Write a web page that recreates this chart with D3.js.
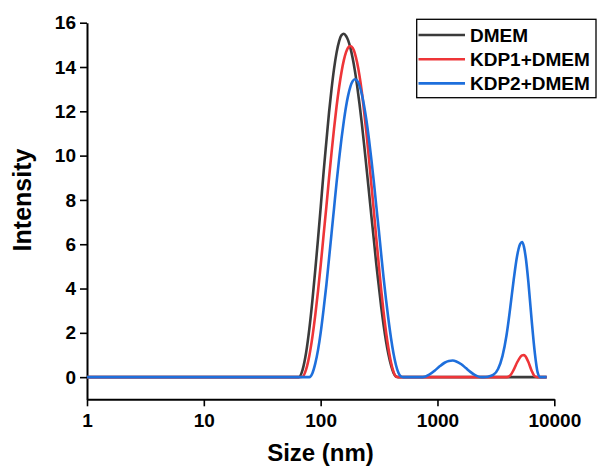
<!DOCTYPE html>
<html>
<head>
<meta charset="utf-8">
<script src="https://cdn.jsdelivr.net/npm/d3@7"></script>
<style>
  body { margin: 0; background: #fff; }
  svg text { font-family: Arial, "Liberation Sans", sans-serif; font-weight: bold; }
</style>
</head>
<body>
<svg id="chart" width="598" height="470"></svg>
<script>
// size bins (nm), shared by all three measurements
var sizes = [1, 10, 50, 55, 60, 65, 70, 75, 80, 85, 90, 95,
  100, 106, 112, 118, 124, 130, 137, 144, 151, 158,
  165, 172, 180, 188, 196, 205, 215, 225, 236, 247,
  259, 272, 285, 299, 314, 330, 346, 363, 381, 400,
  420, 441, 463, 486, 510, 540, 580,
  650, 750, 850, 950, 1050, 1150, 1250, 1350, 1450,
  1600, 1750, 1900, 2100, 2300, 2500, 2700,
  3000, 3300, 3600, 3900, 4200, 4500, 4800,
  5100, 5300, 5500, 5700,
  6000, 6400, 6800, 7200, 7600, 8000, 8600];

var dmem = [0, 0, 0, 0, 0, 0, 0.33, 1.09, 2.18, 3.47, 4.85, 6.25,
  7.64, 9.26, 10.65, 11.95, 13.01, 13.89, 14.66, 15.17, 15.44, 15.5,
  15.40, 15.20, 14.85, 14.39, 13.86, 13.17, 12.34, 11.47, 10.45, 9.44,
  8.38, 7.26, 6.23, 5.14, 4.15, 3.16, 2.34, 1.61, 1.01, 0.54,
  0.20, 0.03, 0, 0, 0, 0, 0,
  0, 0, 0, 0, 0, 0, 0, 0, 0,
  0, 0, 0, 0, 0, 0, 0,
  0, 0, 0, 0, 0, 0, 0,
  0, 0, 0, 0,
  0, 0, 0, 0, 0, 0, 0];

var kdp1 = [0, 0, 0, 0, 0, 0, 0.02, 0.34, 0.97, 1.82, 2.81, 3.89,
  5.03, 6.42, 7.71, 8.99, 10.15, 11.18, 12.24, 13.10, 13.79, 14.31,
  14.67, 14.88, 14.95, 14.86, 14.63, 14.21, 13.61, 12.89, 11.95, 10.98,
  9.88, 8.67, 7.53, 6.29, 5.12, 3.93, 2.92, 2.03, 1.28, 0.67,
  0.25, 0.03, 0, 0, 0, 0, 0,
  0, 0, 0, 0, 0, 0, 0, 0, 0,
  0, 0, 0, 0, 0, 0, 0,
  0, 0, 0, 0, 0.08, 0.34, 0.66,
  0.90, 0.98, 1.0, 0.92,
  0.68, 0.29, 0.04, 0, 0, 0, 0];

var kdp2 = [0, 0, 0, 0, 0, 0, 0, 0, 0, 0.18, 0.62, 1.23,
  2.00, 3.07, 4.17, 5.36, 6.50, 7.59, 8.80, 9.86, 10.79, 11.57,
  12.22, 12.72, 13.13, 13.36, 13.45, 13.39, 13.16, 12.78, 12.22, 11.56,
  10.75, 9.81, 8.84, 7.75, 6.68, 5.53, 4.47, 3.49, 2.58, 1.77,
  1.08, 0.55, 0.20, 0.03, 0, 0, 0,
  0, 0, 0.11, 0.30, 0.50, 0.65, 0.73, 0.75, 0.71,
  0.58, 0.41, 0.25, 0.09, 0.01, 0, 0.02,
  0.10, 0.37, 0.95, 1.89, 3.15, 4.43, 5.46,
  6.01, 6.10, 5.88, 5.39,
  4.29, 2.57, 1.13, 0.22, 0, 0, 0];

var seriesNames = ["DMEM", "KDP1+DMEM", "KDP2+DMEM"];
var seriesColors = ["#3b3b3b", "#ee3538", "#1e6fdc"];
var xMajor = [1, 10, 100, 1000, 10000];
var yMajor = [0, 2, 4, 6, 8, 10, 12, 14, 16];

var svg = d3.select("#chart");

var x = d3.scaleLog().domain([1, 10000]).range([87, 554.3]);
var y = d3.scaleLinear().domain([-1, 16]).range([399.3, 22.7]);

// minor ticks 2..9 in every decade
var xMinor = [];
[1, 10, 100, 1000].forEach(function (d) {
  for (var k = 2; k <= 9; k++) xMinor.push(d * k);
});
var yMinor = d3.range(1, 16, 2);

// x axis
var gx = svg.append("g").attr("transform", "translate(0," + y(-1) + ")");
gx.call(d3.axisBottom(x).tickValues(xMinor).tickFormat("").tickSize(4).tickSizeOuter(0));
gx.call(d3.axisBottom(x).tickValues(xMajor).tickFormat(d3.format("d")).tickSize(7).tickSizeOuter(0));
gx.selectAll(".domain").attr("stroke", "#000").attr("stroke-width", 2);
gx.selectAll(".tick line").attr("stroke", "#000").attr("stroke-width", 1.6);
gx.selectAll(".tick text").attr("fill", "#000").style("font-size", "19px").attr("dy", "0.95em").attr("y", 10);
gx.selectAll("text").filter(function () { return this.textContent === ""; }).remove();

// y axis
var gy = svg.append("g").attr("transform", "translate(" + x(1) + ",0)");
gy.call(d3.axisLeft(y).tickValues(yMinor).tickFormat("").tickSize(4).tickSizeOuter(0));
gy.call(d3.axisLeft(y).tickValues(yMajor).tickSize(7).tickSizeOuter(0));
gy.selectAll(".domain").attr("stroke", "#000").attr("stroke-width", 2);
gy.selectAll(".tick line").attr("stroke", "#000").attr("stroke-width", 1.6);
gy.selectAll(".tick text").attr("fill", "#000").style("font-size", "19px").attr("x", -11);

// axis titles
svg.append("text")
  .attr("x", 320.5).attr("y", 461)
  .attr("text-anchor", "middle")
  .style("font-size", "24px")
  .text("Size (nm)");

svg.append("text")
  .attr("transform", "translate(31,200) rotate(-90)")
  .attr("text-anchor", "middle")
  .style("font-size", "25px")
  .text("Intensity");

// curves
var line = d3.line()
  .x(function (d) { return x(d[0]); })
  .y(function (d) { return y(d[1]); })
  .curve(d3.curveMonotoneX);

[dmem, kdp1, kdp2].forEach(function (vals, i) {
  var pts = sizes.map(function (s, j) { return [s, vals[j]]; });
  svg.append("path")
    .datum(pts)
    .attr("fill", "none")
    .attr("stroke", seriesColors[i])
    .attr("stroke-width", 2.6)
    .attr("stroke-linejoin", "round")
    .attr("d", line);
});

// legend
var lg = svg.append("g");
lg.append("rect")
  .attr("x", 416.7).attr("y", 19.3)
  .attr("width", 179.3).attr("height", 78.4)
  .attr("fill", "#fff").attr("stroke", "#000").attr("stroke-width", 1.3);

seriesNames.forEach(function (name, i) {
  var cy = 35 + i * 24.2;
  lg.append("line")
    .attr("x1", 418.5).attr("x2", 465)
    .attr("y1", cy).attr("y2", cy)
    .attr("stroke", seriesColors[i]).attr("stroke-width", 2.6);
  lg.append("text")
    .attr("x", 470).attr("y", cy + 6.8)
    .style("font-size", "19px")
    .text(name);
});
</script>
</body>
</html>
